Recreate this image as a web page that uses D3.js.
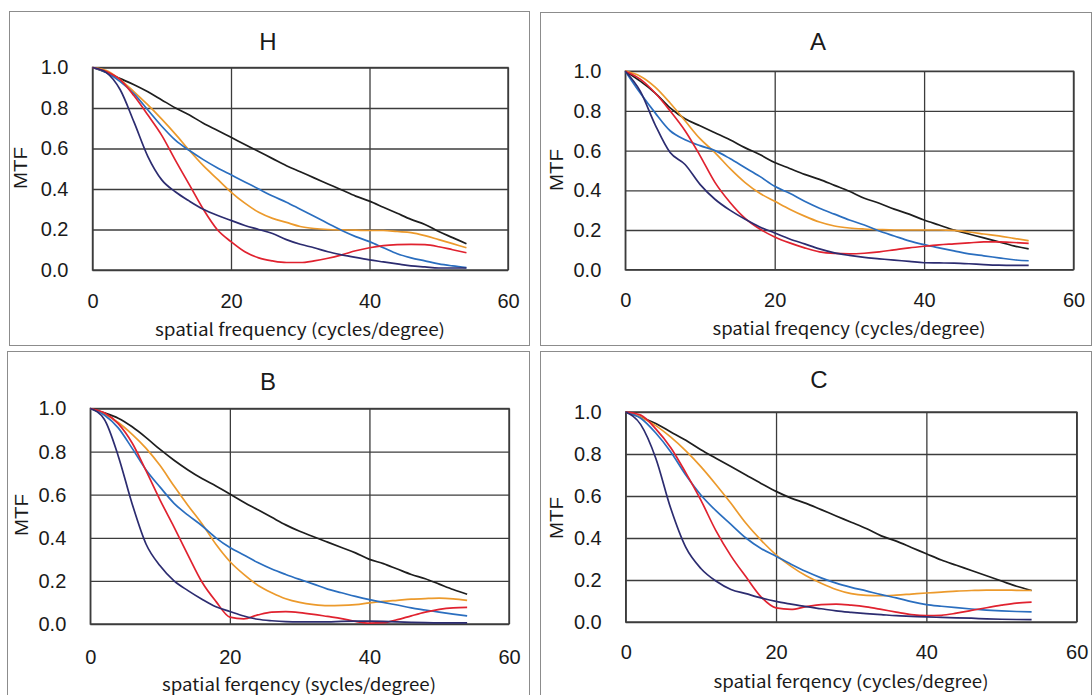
<!DOCTYPE html>
<html>
<head>
<meta charset="utf-8">
<script src="https://cdn.jsdelivr.net/npm/d3@7"></script>
<style>
  body { margin: 0; background: #fff; }
  svg { display: block; }
</style>
</head>
<body>
<svg id="chart" width="1092" height="695"></svg>
<script>
// Spatial frequency samples (cycles/degree)
const freq = [0, 2, 4, 6, 8, 10, 12, 14, 16, 18, 20, 22, 24, 26, 28, 30, 32, 34, 36, 38, 40, 42, 44, 46, 48, 50, 52, 54];
const xTicks = [0, 20, 40, 60];
const yTicks = [0, 0.2, 0.4, 0.6, 0.8, 1.0];
const panelTitles = ["H", "A", "B", "C"];
const xLabels = [
  "spatial frequency (cycles/degree)",
  "spatial freqency (cycles/degree)",
  "spatial ferqency (sycles/degree)",
  "spatial ferqency (cycles/degree)"
];
const yLabel = "MTF";
const seriesNames = ["black", "orange", "blue", "red", "navy"];

// Panel H
const hBlack  = [1.0, 0.975, 0.945, 0.915, 0.88, 0.84, 0.80, 0.765, 0.725, 0.69, 0.655, 0.62, 0.585, 0.55, 0.515, 0.485, 0.455, 0.425, 0.395, 0.365, 0.34, 0.31, 0.28, 0.25, 0.225, 0.19, 0.16, 0.13];
const hNavy   = [1.0, 0.975, 0.89, 0.73, 0.56, 0.445, 0.385, 0.34, 0.30, 0.27, 0.245, 0.22, 0.20, 0.18, 0.15, 0.127, 0.11, 0.09, 0.075, 0.062, 0.05, 0.04, 0.03, 0.02, 0.015, 0.01, 0.01, 0.01];
const hRed    = [1.0, 0.98, 0.94, 0.86, 0.765, 0.665, 0.54, 0.42, 0.30, 0.20, 0.14, 0.09, 0.06, 0.045, 0.037, 0.037, 0.045, 0.058, 0.075, 0.095, 0.11, 0.12, 0.125, 0.127, 0.125, 0.115, 0.10, 0.085];
const hOrange = [1.0, 0.985, 0.94, 0.88, 0.815, 0.745, 0.67, 0.59, 0.515, 0.45, 0.385, 0.33, 0.285, 0.255, 0.235, 0.215, 0.205, 0.20, 0.198, 0.197, 0.195, 0.195, 0.19, 0.185, 0.17, 0.15, 0.13, 0.11];
const hBlue   = [1.0, 0.975, 0.93, 0.87, 0.79, 0.71, 0.64, 0.59, 0.545, 0.505, 0.47, 0.435, 0.40, 0.365, 0.335, 0.30, 0.265, 0.23, 0.195, 0.165, 0.14, 0.11, 0.08, 0.06, 0.045, 0.03, 0.02, 0.012];

// Panel A
const aBlack  = [1.0, 0.95, 0.89, 0.815, 0.76, 0.725, 0.69, 0.655, 0.615, 0.58, 0.54, 0.51, 0.48, 0.455, 0.425, 0.395, 0.36, 0.335, 0.305, 0.28, 0.25, 0.225, 0.20, 0.18, 0.16, 0.14, 0.12, 0.105];
const aNavy   = [1.0, 0.90, 0.73, 0.59, 0.53, 0.43, 0.355, 0.30, 0.255, 0.215, 0.185, 0.155, 0.13, 0.105, 0.085, 0.072, 0.062, 0.055, 0.048, 0.042, 0.035, 0.034, 0.033, 0.03, 0.026, 0.023, 0.022, 0.022];
const aRed    = [1.0, 0.96, 0.89, 0.80, 0.70, 0.575, 0.44, 0.34, 0.26, 0.205, 0.165, 0.135, 0.11, 0.09, 0.082, 0.08, 0.083, 0.09, 0.10, 0.11, 0.118, 0.125, 0.13, 0.135, 0.14, 0.14, 0.137, 0.133];
const aOrange = [1.0, 0.975, 0.92, 0.84, 0.75, 0.66, 0.59, 0.51, 0.44, 0.385, 0.345, 0.305, 0.27, 0.24, 0.22, 0.21, 0.205, 0.202, 0.20, 0.20, 0.20, 0.20, 0.198, 0.19, 0.18, 0.17, 0.158, 0.146];
const aBlue   = [1.0, 0.89, 0.79, 0.70, 0.655, 0.625, 0.60, 0.56, 0.515, 0.47, 0.42, 0.385, 0.345, 0.31, 0.28, 0.25, 0.225, 0.195, 0.17, 0.145, 0.126, 0.11, 0.095, 0.08, 0.07, 0.06, 0.05, 0.045];

// Panel B
const bBlack  = [1.0, 0.98, 0.955, 0.915, 0.865, 0.81, 0.76, 0.715, 0.675, 0.64, 0.603, 0.565, 0.53, 0.495, 0.46, 0.43, 0.405, 0.38, 0.355, 0.33, 0.30, 0.28, 0.255, 0.23, 0.21, 0.185, 0.16, 0.138];
const bNavy   = [1.0, 0.95, 0.78, 0.557, 0.37, 0.27, 0.20, 0.155, 0.115, 0.08, 0.058, 0.037, 0.022, 0.015, 0.011, 0.01, 0.01, 0.01, 0.012, 0.013, 0.013, 0.012, 0.01, 0.008, 0.006, 0.005, 0.005, 0.005];
const bRed    = [1.0, 0.98, 0.93, 0.84, 0.71, 0.575, 0.45, 0.32, 0.195, 0.105, 0.032, 0.024, 0.042, 0.055, 0.057, 0.053, 0.045, 0.035, 0.025, 0.012, 0.004, 0.006, 0.02, 0.038, 0.055, 0.068, 0.075, 0.077];
const bOrange = [1.0, 0.975, 0.935, 0.88, 0.815, 0.735, 0.64, 0.55, 0.465, 0.37, 0.29, 0.23, 0.18, 0.145, 0.117, 0.10, 0.09, 0.085, 0.086, 0.09, 0.098, 0.105, 0.11, 0.115, 0.118, 0.12, 0.117, 0.11];
const bBlue   = [1.0, 0.97, 0.91, 0.815, 0.715, 0.635, 0.56, 0.505, 0.456, 0.40, 0.355, 0.32, 0.285, 0.255, 0.23, 0.207, 0.185, 0.162, 0.145, 0.128, 0.113, 0.10, 0.088, 0.075, 0.065, 0.055, 0.046, 0.038];

// Panel C
const cBlack  = [1.0, 0.975, 0.945, 0.905, 0.865, 0.82, 0.78, 0.74, 0.70, 0.66, 0.622, 0.59, 0.565, 0.535, 0.505, 0.475, 0.445, 0.41, 0.385, 0.355, 0.325, 0.295, 0.27, 0.245, 0.22, 0.195, 0.17, 0.15];
const cNavy   = [1.0, 0.94, 0.78, 0.54, 0.355, 0.255, 0.195, 0.155, 0.135, 0.115, 0.098, 0.085, 0.073, 0.063, 0.053, 0.046, 0.04, 0.035, 0.03, 0.027, 0.024, 0.022, 0.02, 0.018, 0.015, 0.013, 0.012, 0.011];
const cRed    = [1.0, 0.985, 0.92, 0.83, 0.71, 0.58, 0.435, 0.315, 0.215, 0.12, 0.067, 0.06, 0.073, 0.083, 0.085, 0.08, 0.072, 0.06, 0.047, 0.035, 0.03, 0.032, 0.042, 0.055, 0.068, 0.08, 0.09, 0.095];
const cOrange = [1.0, 0.975, 0.935, 0.88, 0.815, 0.74, 0.655, 0.565, 0.47, 0.39, 0.32, 0.265, 0.22, 0.185, 0.155, 0.135, 0.127, 0.125, 0.128, 0.133, 0.138, 0.142, 0.147, 0.15, 0.152, 0.152, 0.151, 0.15];
const cBlue   = [1.0, 0.97, 0.90, 0.81, 0.70, 0.605, 0.53, 0.465, 0.40, 0.35, 0.313, 0.275, 0.24, 0.21, 0.185, 0.165, 0.148, 0.13, 0.115, 0.097, 0.083, 0.075, 0.068, 0.062, 0.057, 0.053, 0.05, 0.048];

const panelSeries = [
  { black: hBlack, orange: hOrange, blue: hBlue, red: hRed, navy: hNavy },
  { black: aBlack, orange: aOrange, blue: aBlue, red: aRed, navy: aNavy },
  { black: bBlack, orange: bOrange, blue: bBlue, red: bRed, navy: bNavy },
  { black: cBlack, orange: cOrange, blue: cBlue, red: cRed, navy: cNavy }
];

const colors = {
  black: "#1e1e1e",
  orange: "#ec9a2c",
  blue: "#2a6ebf",
  red: "#e0222f",
  navy: "#2c2c70"
};

// Geometry of each panel: outer frame, plot box, and text anchors
const layouts = [
  { frame: [9, 11, 529, 345], px: [92.5, 508], py: [67.5, 270], title: [268, 42], xlab: [300, 330, 290], mtf: [21, 168], xtickY: 301 },
  { frame: [540, 12, 1091, 345], px: [625.3, 1073.5], py: [71.2, 269.7], title: [818, 42], xlab: [849, 329, 273], mtf: [557, 170], xtickY: 300 },
  { frame: [7, 351, 529, 700], px: [90.3, 509], py: [408.5, 624], title: [268, 382], xlab: [299, 685, 274], mtf: [22, 515], xtickY: 657 },
  { frame: [540, 351, 1091, 700], px: [625.7, 1076.7], py: [412, 622], title: [819, 380], xlab: [851, 682, 275], mtf: [557, 518], xtickY: 652 }
];

const svg = d3.select("#chart");
svg.append("rect").attr("width", 1092).attr("height", 695).attr("fill", "#fff");

const numFont = "'Liberation Sans', Arial, sans-serif";
const labelFont = "'Noto Sans CJK JP', 'Noto Sans', sans-serif";
const gridColor = "#3c3c3c";

layouts.forEach((L, i) => {
  const g = svg.append("g");

  // outer frame
  g.append("rect")
    .attr("x", L.frame[0] + 0.5).attr("y", L.frame[1] + 0.5)
    .attr("width", L.frame[2] - L.frame[0]).attr("height", L.frame[3] - L.frame[1])
    .attr("fill", "none").attr("stroke", "#8c8c8c").attr("stroke-width", 1);

  const x = d3.scaleLinear().domain([0, 60]).range(L.px);
  const y = d3.scaleLinear().domain([0, 1]).range([L.py[1], L.py[0]]);
  const w = L.px[1] - L.px[0];
  const h = L.py[1] - L.py[0];

  // horizontal gridlines + y tick labels
  const yAxis = g.append("g")
    .attr("transform", `translate(${L.px[0]},0)`)
    .call(d3.axisLeft(y).tickValues(yTicks).tickFormat(d3.format(".1f")).tickSize(-w).tickPadding(24));
  yAxis.select(".domain").remove();
  yAxis.selectAll(".tick line").attr("stroke", gridColor).attr("stroke-width", 1.3);
  yAxis.selectAll(".tick text")
    .attr("font-family", numFont).attr("font-size", 20).attr("fill", "#1a1a1a");

  // vertical gridlines + x tick labels
  const xAxis = g.append("g")
    .attr("transform", `translate(0,${L.py[1]})`)
    .call(d3.axisBottom(x).tickValues(xTicks).tickSize(-h).tickPadding(0));
  xAxis.select(".domain").remove();
  xAxis.selectAll(".tick line").attr("stroke", gridColor).attr("stroke-width", 1.3);
  xAxis.selectAll(".tick text")
    .attr("y", L.xtickY - L.py[1]).attr("dy", "0.35em")
    .attr("font-family", numFont).attr("font-size", 20).attr("fill", "#1a1a1a");

  // plot border
  g.append("rect")
    .attr("x", L.px[0]).attr("y", L.py[0]).attr("width", w).attr("height", h)
    .attr("fill", "none").attr("stroke", gridColor).attr("stroke-width", 1.4);

  // MTF curves
  const line = d3.line()
    .x((d, k) => x(freq[k]))
    .y(d => y(d))
    .curve(d3.curveMonotoneX);
  seriesNames.forEach(name => {
    g.append("path")
      .datum(panelSeries[i][name])
      .attr("d", line)
      .attr("fill", "none")
      .attr("stroke", colors[name])
      .attr("stroke-width", 1.7)
      .attr("stroke-linejoin", "round");
  });

  // panel title
  g.append("text")
    .attr("x", L.title[0]).attr("y", L.title[1]).attr("dy", "0.35em")
    .attr("text-anchor", "middle")
    .attr("font-family", numFont).attr("font-size", 24).attr("fill", "#1a1a1a")
    .text(panelTitles[i]);

  // x axis title
  g.append("text")
    .attr("x", L.xlab[0]).attr("y", L.xlab[1]).attr("dy", "0.35em")
    .attr("text-anchor", "middle")
    .attr("textLength", L.xlab[2]).attr("lengthAdjust", "spacingAndGlyphs")
    .attr("font-family", labelFont).attr("font-size", 17).attr("fill", "#1a1a1a")
    .text(xLabels[i]);

  // y axis title
  g.append("text")
    .attr("transform", `translate(${L.mtf[0]},${L.mtf[1]}) rotate(-90)`)
    .attr("dy", "0.35em")
    .attr("text-anchor", "middle")
    .attr("textLength", 42).attr("lengthAdjust", "spacingAndGlyphs")
    .attr("font-family", numFont).attr("font-size", 18).attr("fill", "#1a1a1a")
    .text(yLabel);
});
</script>
</body>
</html>
